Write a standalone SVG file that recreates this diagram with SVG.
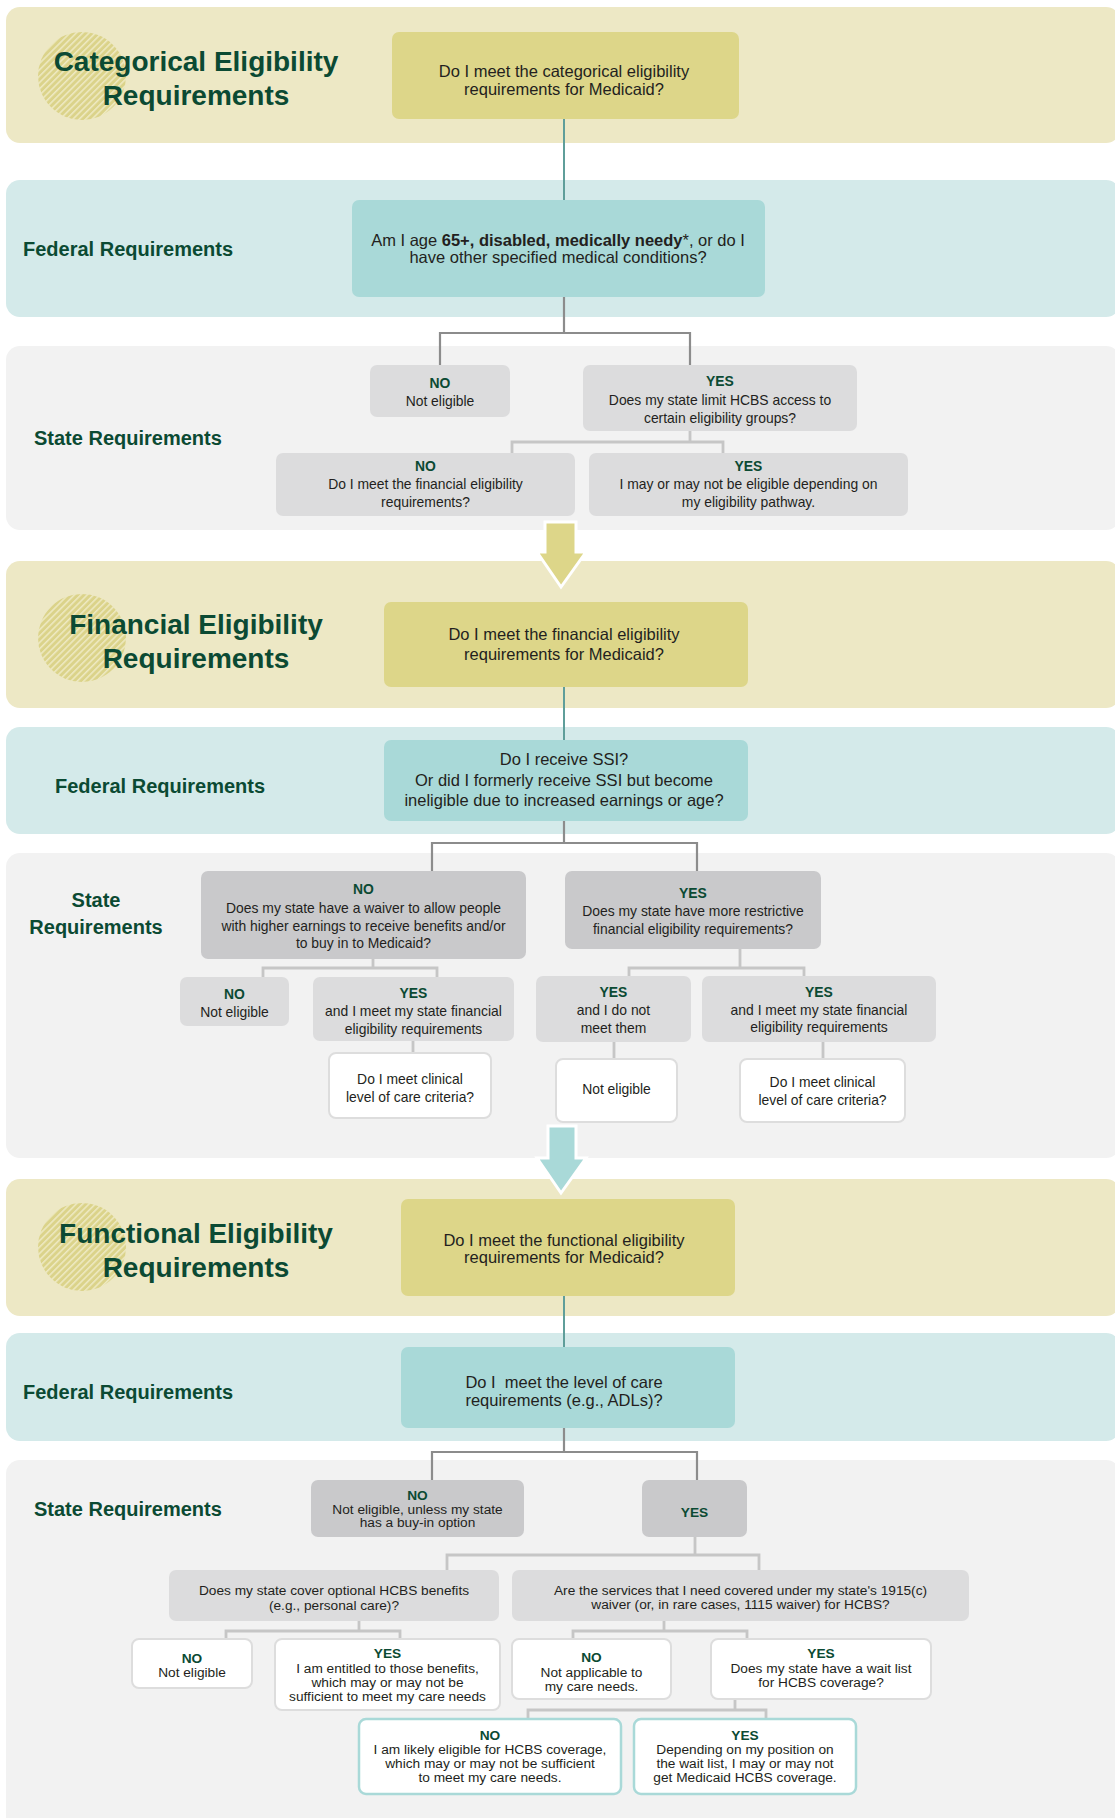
<svg xmlns="http://www.w3.org/2000/svg" width="1115" height="1818" viewBox="0 0 1115 1818">
<defs>
<pattern id="hatch" patternUnits="userSpaceOnUse" width="4.5" height="4.5" patternTransform="rotate(45)">
<rect width="4.5" height="4.5" fill="#dbd38a"/>
<line x1="0.8" y1="0" x2="0.8" y2="4.5" stroke="#f4f0d2" stroke-width="1.2"/>
</pattern>
<style>
text{font-family:"Liberation Sans",Arial,sans-serif;fill:#231f20;text-anchor:middle}
.title{font-size:28px;font-weight:bold;fill:#0b4a33}
.sec{font-size:20px;font-weight:bold;fill:#0b4a33;text-anchor:start}
.secm{font-size:20px;font-weight:bold;fill:#0b4a33}
.t16{font-size:16.5px}
.t14{font-size:13.9px}
.t13{font-size:13.7px}
.yn{font-weight:bold;fill:#0b4a33}
.bc{fill:#ede8c5}
.bt{fill:#d4eaea}
.bg{fill:#f2f2f2}
.ol{fill:#ddd689}
.tl{fill:#a9d9d8}
.g1{fill:#dcdcdd}
.g2{fill:#c9c9cb}
.wb{fill:#ffffff;stroke:#dddddd;stroke-width:2}
.tb{fill:#ffffff;stroke:#a9d9d8;stroke-width:2.5}
.cT{stroke:#5f9e9a;stroke-width:2;fill:none}
.cD{stroke:#8c8c8c;stroke-width:2.2;fill:none}
.cL{stroke:#c6c6c6;stroke-width:2.8;fill:none}
</style>
</defs>

<g id="bands">
<rect class="bc" x="6" y="7" width="1114" height="136" rx="14"/>
<rect class="bt" x="6" y="180" width="1114" height="137" rx="14"/>
<rect class="bg" x="6" y="346" width="1114" height="184" rx="14"/>
<rect class="bc" x="6" y="561" width="1114" height="147" rx="14"/>
<rect class="bt" x="6" y="727" width="1114" height="107" rx="14"/>
<rect class="bg" x="6" y="853" width="1114" height="305" rx="14"/>
<rect class="bc" x="6" y="1179" width="1114" height="137" rx="14"/>
<rect class="bt" x="6" y="1333" width="1114" height="108" rx="14"/>
<rect class="bg" x="6" y="1460" width="1114" height="380" rx="14"/>
</g>

<g id="connectors">
<path class="cT" d="M564 119V200"/>
<path class="cD" d="M564 297V333M440 365V333H690V365"/>
<path class="cL" d="M690 431V442M512 453V442H723V453"/>
<path class="cT" d="M564 687V740"/>
<path class="cD" d="M564 821V843M432 871V843H697V871"/>
<path class="cL" d="M373 959V968M263 977V968H437V977"/>
<path class="cL" d="M740 949V968M629 976V968H804V976"/>
<path class="cL" d="M413 1041V1053M614 1042V1059M823 1042V1059"/>
<path class="cT" d="M564 1296V1347"/>
<path class="cD" d="M564 1428V1452M432 1480V1452H697V1480"/>
<path class="cL" d="M695 1537V1555M447 1570V1555H759V1570"/>
<path class="cL" d="M359 1621V1631M226 1639V1631H400V1639"/>
<path class="cL" d="M664 1621V1631M573 1639V1631H747V1639"/>
<path class="cL" d="M735 1699V1710M528 1719V1710H766V1719"/>
<polygon id="arrow1" points="545,522 576,522 576,552 586,552 561,587 537,552 545,552" fill="#ddd689" stroke="#ffffff" stroke-width="3"/>
<polygon id="arrow2" points="548,1126 576,1126 576,1158 586,1158 561,1193 537,1158 548,1158" fill="#a9d9d8" stroke="#ffffff" stroke-width="3"/>
</g>

<!-- Categorical -->
<g id="cat-title">
<circle cx="82" cy="76" r="44" fill="url(#hatch)"/>
<text class="title" x="196" y="71">Categorical Eligibility</text>
<text class="title" x="196" y="105">Requirements</text>
</g>
<g id="cat-main">
<rect class="ol" x="392" y="32" width="347" height="87" rx="7"/>
<text class="t16" x="564" y="77">Do I meet the categorical eligibility</text>
<text class="t16" x="564" y="95">requirements for Medicaid?</text>
</g>
<g id="cat-fed-label"><text class="sec" x="23" y="256">Federal Requirements</text></g>
<g id="cat-fed">
<rect class="tl" x="352" y="200" width="413" height="97" rx="7"/>
<text class="t16" x="558" y="246">Am I age <tspan font-weight="bold">65+, disabled, medically needy</tspan>*, or do I</text>
<text class="t16" x="558" y="263">have other specified medical conditions?</text>
</g>
<g id="cat-state-label"><text class="sec" x="34" y="445">State Requirements</text></g>
<g id="cat-no">
<rect class="g1" x="370" y="365" width="140" height="52" rx="7"/>
<text class="t14 yn" x="440" y="388">NO</text>
<text class="t14" x="440" y="406">Not eligible</text>
</g>
<g id="cat-yes">
<rect class="g1" x="583" y="365" width="274" height="66" rx="7"/>
<text class="t14 yn" x="720" y="386">YES</text>
<text class="t14" x="720" y="405">Does my state limit HCBS access to</text>
<text class="t14" x="720" y="423">certain eligibility groups?</text>
</g>
<g id="cat-yes-no">
<rect class="g1" x="276" y="453" width="299" height="63" rx="7"/>
<text class="t14 yn" x="425.5" y="471">NO</text>
<text class="t14" x="425.5" y="489">Do I meet the financial eligibility</text>
<text class="t14" x="425.5" y="507">requirements?</text>
</g>
<g id="cat-yes-yes">
<rect class="g1" x="589" y="453" width="319" height="63" rx="7"/>
<text class="t14 yn" x="748.5" y="471">YES</text>
<text class="t14" x="748.5" y="489">I may or may not be eligible depending on</text>
<text class="t14" x="748.5" y="507">my eligibility pathway.</text>
</g>

<!-- Financial -->
<g id="fin-title">
<circle cx="82" cy="638" r="44" fill="url(#hatch)"/>
<text class="title" x="196" y="634">Financial Eligibility</text>
<text class="title" x="196" y="668">Requirements</text>
</g>
<g id="fin-main">
<rect class="ol" x="384" y="602" width="364" height="85" rx="7"/>
<text class="t16" x="564" y="640">Do I meet the financial eligibility</text>
<text class="t16" x="564" y="660">requirements for Medicaid?</text>
</g>
<g id="fin-fed-label"><text class="sec" x="55" y="793">Federal Requirements</text></g>
<g id="fin-fed">
<rect class="tl" x="384" y="740" width="364" height="81" rx="7"/>
<text class="t16" x="564" y="765">Do I receive SSI?</text>
<text class="t16" x="564" y="786">Or did I formerly receive SSI but become</text>
<text class="t16" x="564" y="806">ineligible due to increased earnings or age?</text>
</g>
<g id="fin-state-label">
<text class="secm" x="96" y="907">State</text>
<text class="secm" x="96" y="934">Requirements</text>
</g>
<g id="fin-no">
<rect class="g2" x="201" y="871" width="325" height="88" rx="7"/>
<text class="t14 yn" x="363.5" y="894">NO</text>
<text class="t14" x="363.5" y="913">Does my state have a waiver to allow people</text>
<text class="t14" x="363.5" y="931">with higher earnings to receive benefits and/or</text>
<text class="t14" x="363.5" y="948">to buy in to Medicaid?</text>
</g>
<g id="fin-yes">
<rect class="g2" x="565" y="871" width="256" height="78" rx="7"/>
<text class="t14 yn" x="693" y="898">YES</text>
<text class="t14" x="693" y="916">Does my state have more restrictive</text>
<text class="t14" x="693" y="934">financial eligibility requirements?</text>
</g>
<g id="fin-no-no">
<rect class="g1" x="180" y="977" width="109" height="49" rx="7"/>
<text class="t14 yn" x="234.5" y="999">NO</text>
<text class="t14" x="234.5" y="1017">Not eligible</text>
</g>
<g id="fin-no-yes">
<rect class="g1" x="313" y="977" width="201" height="64" rx="7"/>
<text class="t14 yn" x="413.5" y="998">YES</text>
<text class="t14" x="413.5" y="1016">and I meet my state financial</text>
<text class="t14" x="413.5" y="1034">eligibility requirements</text>
</g>
<g id="fin-no-yes-q">
<rect class="wb" x="329" y="1053" width="162" height="65" rx="7"/>
<text class="t14" x="410" y="1084">Do I meet clinical</text>
<text class="t14" x="410" y="1102">level of care criteria?</text>
</g>
<g id="fin-yes-notmeet">
<rect class="g1" x="536" y="976" width="155" height="66" rx="7"/>
<text class="t14 yn" x="613.5" y="997">YES</text>
<text class="t14" x="613.5" y="1015">and I do not</text>
<text class="t14" x="613.5" y="1033">meet them</text>
</g>
<g id="fin-yes-notmeet-r">
<rect class="wb" x="556" y="1059" width="121" height="63" rx="7"/>
<text class="t14" x="616.5" y="1094">Not eligible</text>
</g>
<g id="fin-yes-meet">
<rect class="g1" x="702" y="976" width="234" height="66" rx="7"/>
<text class="t14 yn" x="819" y="997">YES</text>
<text class="t14" x="819" y="1015">and I meet my state financial</text>
<text class="t14" x="819" y="1032">eligibility requirements</text>
</g>
<g id="fin-yes-meet-q">
<rect class="wb" x="740" y="1059" width="165" height="63" rx="7"/>
<text class="t14" x="822.5" y="1087">Do I meet clinical</text>
<text class="t14" x="822.5" y="1105">level of care criteria?</text>
</g>

<!-- Functional -->
<g id="fun-title">
<circle cx="82" cy="1247" r="44" fill="url(#hatch)"/>
<text class="title" x="196" y="1243">Functional Eligibility</text>
<text class="title" x="196" y="1277">Requirements</text>
</g>
<g id="fun-main">
<rect class="ol" x="401" y="1199" width="334" height="97" rx="7"/>
<text class="t16" x="564" y="1246">Do I meet the functional eligibility</text>
<text class="t16" x="564" y="1263">requirements for Medicaid?</text>
</g>
<g id="fun-fed-label"><text class="sec" x="23" y="1399">Federal Requirements</text></g>
<g id="fun-fed">
<rect class="tl" x="401" y="1347" width="334" height="81" rx="7"/>
<text class="t16" x="564" y="1388" xml:space="preserve">Do I  meet the level of care</text>
<text class="t16" x="564" y="1406">requirements (e.g., ADLs)?</text>
</g>
<g id="fun-state-label"><text class="sec" x="34" y="1516">State Requirements</text></g>
<g id="fun-no">
<rect class="g2" x="311" y="1480" width="213" height="57" rx="7"/>
<text class="t13 yn" x="417.5" y="1500">NO</text>
<text class="t13" x="417.5" y="1514">Not eligible, unless my state</text>
<text class="t13" x="417.5" y="1527">has a buy-in option</text>
</g>
<g id="fun-yes">
<rect class="g2" x="642" y="1480" width="105" height="57" rx="7"/>
<text class="t13 yn" x="694.5" y="1517">YES</text>
</g>
<g id="fun-optional">
<rect class="g1" x="169" y="1570" width="330" height="51" rx="7"/>
<text class="t13" x="334" y="1595">Does my state cover optional HCBS benefits</text>
<text class="t13" x="334" y="1610">(e.g., personal care)?</text>
</g>
<g id="fun-waiver">
<rect class="g1" x="512" y="1570" width="457" height="51" rx="7"/>
<text class="t13" x="740.5" y="1595">Are the services that I need covered under my state's 1915(c)</text>
<text class="t13" x="740.5" y="1609">waiver (or, in rare cases, 1115 waiver) for HCBS?</text>
</g>
<g id="fun-opt-no">
<rect class="wb" x="132" y="1639" width="120" height="49" rx="7"/>
<text class="t13 yn" x="192" y="1663">NO</text>
<text class="t13" x="192" y="1677">Not eligible</text>
</g>
<g id="fun-opt-yes">
<rect class="wb" x="275" y="1639" width="225" height="71" rx="7"/>
<text class="t13 yn" x="387.5" y="1658">YES</text>
<text class="t13" x="387.5" y="1673">I am entitled to those benefits,</text>
<text class="t13" x="387.5" y="1687">which may or may not be</text>
<text class="t13" x="387.5" y="1701">sufficient to meet my care needs</text>
</g>
<g id="fun-w-no">
<rect class="wb" x="512" y="1639" width="159" height="60" rx="7"/>
<text class="t13 yn" x="591.5" y="1662">NO</text>
<text class="t13" x="591.5" y="1677">Not applicable to</text>
<text class="t13" x="591.5" y="1691">my care needs.</text>
</g>
<g id="fun-w-yes">
<rect class="wb" x="711" y="1639" width="220" height="60" rx="7"/>
<text class="t13 yn" x="821" y="1658">YES</text>
<text class="t13" x="821" y="1673">Does my state have a wait list</text>
<text class="t13" x="821" y="1687">for HCBS coverage?</text>
</g>
<g id="fun-wl-no">
<rect class="tb" x="359" y="1719" width="262" height="75" rx="7"/>
<text class="t13 yn" x="490" y="1740">NO</text>
<text class="t13" x="490" y="1754">I am likely eligible for HCBS coverage,</text>
<text class="t13" x="490" y="1768">which may or may not be sufficient</text>
<text class="t13" x="490" y="1782">to meet my care needs.</text>
</g>
<g id="fun-wl-yes">
<rect class="tb" x="634" y="1719" width="222" height="75" rx="7"/>
<text class="t13 yn" x="745" y="1740">YES</text>
<text class="t13" x="745" y="1754">Depending on my position on</text>
<text class="t13" x="745" y="1768">the wait list, I may or may not</text>
<text class="t13" x="745" y="1782">get Medicaid HCBS coverage.</text>
</g>
</svg>
